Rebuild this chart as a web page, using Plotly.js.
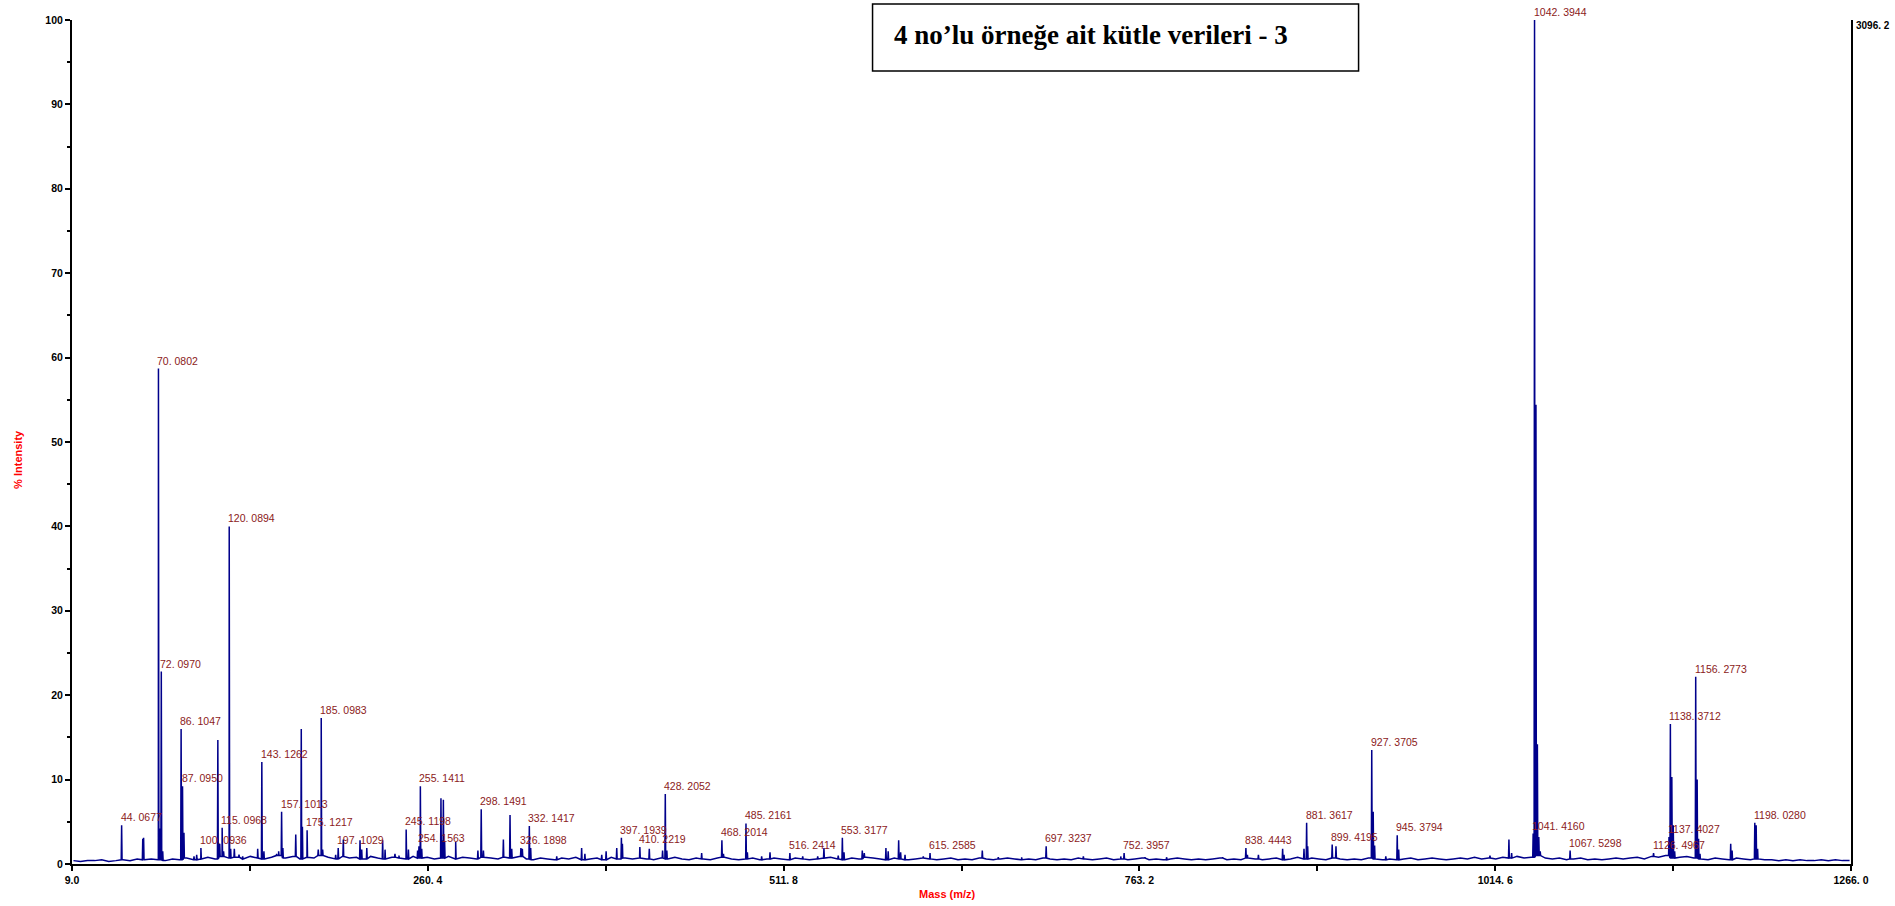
<!DOCTYPE html>
<html>
<head>
<meta charset="utf-8">
<script src="https://cdn.plot.ly/plotly-3.0.1.min.js"></script>
<style>
  html, body { margin: 0; padding: 0; background: #ffffff; }
  #chart { width: 1895px; height: 906px; }
</style>
</head>
<body>
<div id="chart"></div>
<script>
// Baseline noise level (% intensity), one reading every 5 m/z starting at m/z 10
const baselineStart = 10;
const baselineStep = 5;
const baseline = [
  0.4,0.3,0.4,0.4,0.5,0.3,0.4,0.5,0.4,0.6,0.5,0.6,0.5,0.4,0.6,0.5,0.7,0.5,0.6,0.8,
  0.6,0.9,0.7,0.8,0.6,0.9,0.7,0.6,0.8,1.0,0.7,0.9,0.6,0.8,0.7,1.0,0.8,0.6,0.9,0.7,
  0.8,0.6,0.9,0.7,0.6,0.8,0.7,0.6,0.9,0.7,0.8,0.6,0.7,0.9,0.6,0.8,0.7,0.6,0.8,0.7,
  0.6,0.8,0.7,0.9,0.6,0.5,0.7,0.6,0.5,0.7,0.6,0.8,0.5,0.6,0.7,0.5,0.8,0.6,0.7,0.6,
  0.7,0.6,0.5,0.7,0.6,0.8,0.6,0.5,0.7,0.6,0.5,0.7,0.8,0.6,0.5,0.6,0.7,0.5,0.6,0.7,
  0.6,0.5,0.7,0.6,0.5,0.6,0.7,0.8,0.6,0.5,0.7,0.6,0.8,0.7,0.6,0.5,0.7,0.6,0.5,0.6,
  0.7,0.6,0.5,0.6,0.7,0.5,0.6,0.5,0.7,0.6,0.5,0.6,0.7,0.6,0.5,0.6,0.5,0.7,0.6,0.5,
  0.6,0.5,0.7,0.6,0.5,0.6,0.7,0.5,0.6,0.5,0.6,0.7,0.5,0.6,0.5,0.6,0.7,0.6,0.5,0.6,
  0.5,0.6,0.7,0.5,0.6,0.5,0.7,0.6,0.5,0.6,0.7,0.5,0.6,0.8,0.6,0.7,0.6,0.5,0.7,0.6,
  0.5,0.6,0.5,0.7,0.6,0.5,0.6,0.5,0.6,0.7,0.5,0.6,0.7,0.6,0.5,0.6,0.7,0.6,0.8,0.6,
  0.7,0.6,0.8,0.7,0.9,0.7,0.8,1.0,0.7,0.6,0.7,0.5,0.6,0.7,0.5,0.6,0.5,0.6,0.7,0.6,
  0.7,0.8,0.6,0.9,0.8,1.0,0.7,0.8,0.9,0.7,0.6,0.5,0.7,0.6,0.5,0.7,0.6,0.5,0.6,0.5,
  0.5,0.4,0.5,0.4,0.5,0.4,0.4,0.5,0.4,0.5,0.4,0.4
];

// Peak centroids (m/z) and their relative intensities (%)
const peakMz = [
  44.0677, 59.0, 59.6, 70.0802, 71.08, 72.0970, 73.1, 86.1047, 87.0950, 88.1,
  95.2, 97.1, 100.0936, 112.05, 113.4, 115.0968, 116.1, 120.0894, 121.1, 123.7,
  127.0, 129.6, 140.2, 143.1262, 144.6, 153.6, 155.0, 157.1013, 158.0, 167.1,
  171.0, 171.8, 175.1217, 183.0, 185.0983, 186.1, 195.3, 197.1029, 200.7, 212.5,
  213.7, 217.3, 228.5, 230.2, 237.2, 240.0, 245.1198, 246.7, 253.2, 254.1563,
  255.1411, 256.1, 269.7, 270.5, 271.4, 272.3, 280.1, 295.8, 298.1491, 299.7,
  313.8, 318.5, 319.7, 326.1898, 327.2, 332.1417, 333.1, 351.5, 369.1, 371.4,
  383.3, 386.4, 393.9, 397.1939, 397.9, 410.2219, 416.9, 426.3, 428.2052, 429.3,
  453.9, 468.2014, 469.3, 485.2161, 486.2, 496.3, 502.2, 516.2414, 525.3, 535.9,
  540.3, 550.4, 553.3177, 554.5, 567.4, 568.8, 584.1, 585.7, 593.1, 594.5,
  597.6, 610.5, 615.2585, 652.2, 663.5, 680.0, 697.3237, 723.6, 750.0, 752.3957,
  767.1, 782.4, 822.0, 838.4443, 839.5, 847.3, 864.4, 865.4, 879.5, 881.3617,
  882.1, 899.4195, 902.1, 927.3705, 928.4, 929.4, 937.3, 945.3794, 946.4, 1010.9,
  1024.3, 1026.2, 1041.4160, 1042.3944, 1043.4, 1044.4, 1045.4, 1046.4, 1067.5298, 1126.4967,
  1137.4027, 1138.3712, 1139.4, 1140.4, 1141.4, 1156.2773, 1157.3, 1158.3, 1159.3, 1181.0,
  1182.0, 1198.0280, 1199.0, 1200.0
];
const peakIntensity = [
  4.6, 3.0, 3.1, 58.7, 4.2, 22.8, 1.5, 16.0, 9.2, 3.7,
  0.9, 1.1, 1.9, 14.7, 2.4, 4.3, 1.5, 40.0, 1.8, 1.8,
  1.1, 0.9, 1.8, 12.1, 1.5, 1.2, 1.5, 6.2, 1.9, 3.5,
  16.0, 4.4, 4.0, 1.7, 17.3, 1.7, 1.1, 1.9, 2.9, 2.8,
  1.7, 1.9, 2.8, 1.7, 1.2, 1.0, 4.1, 1.7, 1.6, 2.1,
  9.2, 1.8, 7.8, 2.8, 7.6, 2.6, 2.6, 1.6, 6.5, 1.6,
  2.9, 5.8, 1.8, 1.9, 1.8, 4.5, 1.9, 0.9, 1.9, 1.2,
  1.1, 1.5, 1.9, 3.1, 2.4, 2.0, 1.8, 1.6, 8.3, 1.6,
  1.3, 2.8, 1.2, 4.8, 1.4, 0.9, 1.4, 1.3, 0.9, 0.9,
  1.9, 1.0, 3.1, 1.4, 1.6, 1.3, 1.9, 1.5, 2.8, 1.4,
  1.1, 0.9, 1.3, 1.6, 0.8, 0.8, 2.1, 0.9, 0.9, 1.3,
  0.8, 0.8, 0.8, 1.9, 1.1, 1.1, 1.8, 1.1, 1.8, 4.9,
  2.1, 2.3, 2.1, 13.5, 6.2, 2.2, 0.9, 3.4, 1.7, 1.0,
  2.9, 1.3, 3.6, 100.0, 54.4, 14.2, 3.2, 1.5, 1.6, 1.3,
  3.2, 16.6, 10.3, 4.6, 1.5, 22.2, 10.0, 3.0, 1.2, 2.4,
  1.6, 4.9, 4.6, 1.8
];

// Peaks annotated with their m/z value
const labelledMz = [
  44.0677, 70.0802, 72.0970, 86.1047, 87.0950, 100.0936, 115.0968, 120.0894,
  143.1262, 157.1013, 175.1217, 185.0983, 197.1029, 245.1198, 254.1563, 255.1411,
  298.1491, 326.1898, 332.1417, 397.1939, 410.2219, 428.2052, 468.2014, 485.2161,
  516.2414, 553.3177, 615.2585, 697.3237, 752.3957, 838.4443, 881.3617, 899.4195,
  927.3705, 945.3794, 1041.4160, 1042.3944, 1067.5298, 1126.4967, 1137.4027,
  1138.3712, 1156.2773, 1198.0280
];

const xTickVals = [9.0, 260.4, 511.8, 763.2, 1014.6, 1266.0];
const xTickText = ['9.0', '260. 4', '511. 8', '763. 2', '1014. 6', '1266. 0'];
const yTickVals = [0, 10, 20, 30, 40, 50, 60, 70, 80, 90, 100];
const basePeakCounts = '3096. 2';
const chartTitle = '4 no’lu örneğe ait kütle verileri - 3';
const xTitle = 'Mass (m/z)';
const yTitle = '% Intensity';

const SANS = '"Liberation Sans", Arial, sans-serif';
const SERIF = '"Liberation Serif", "Times New Roman", serif';
const LABEL_RED = '#8b1a1a';
const TRACE_BLUE = '#00008b';

// Profile trace: baseline readings plus a narrow stick for every peak
function footAt(m) {
  let i = Math.round((m - baselineStart) / baselineStep);
  i = Math.max(0, Math.min(baseline.length - 1, i));
  return baseline[i];
}
const pts = [];
baseline.forEach((v, i) => pts.push([baselineStart + i * baselineStep, v]));
peakMz.forEach((m, i) => {
  const f = footAt(m);
  pts.push([m - 0.3, f], [m, peakIntensity[i]], [m + 0.3, f]);
});
pts.sort((a, b) => a[0] - b[0]);

const trace = {
  type: 'scatter',
  mode: 'lines',
  x: pts.map(p => p[0]),
  y: pts.map(p => p[1]),
  line: { color: TRACE_BLUE, width: 1.5, simplify: false },
  hoverinfo: 'skip',
  showlegend: false
};

function fmtMz(m) {
  return m.toFixed(4).replace('.', '. ');
}

const annotations = labelledMz.map(m => {
  const i = peakMz.indexOf(m);
  return {
    x: m, y: peakIntensity[i], xref: 'x', yref: 'y',
    text: fmtMz(m), showarrow: false,
    xanchor: 'left', yanchor: 'bottom', xshift: -3, yshift: 0,
    font: { family: SANS, size: 10.5, color: LABEL_RED }
  };
});

annotations.push(
  {
    x: 1, y: 1, xref: 'paper', yref: 'paper', text: '<b>' + basePeakCounts + '</b>',
    showarrow: false, xanchor: 'left', yanchor: 'top', xshift: 3, yshift: 2,
    font: { family: SANS, size: 10, color: '#000000' }
  },
  {
    x: 0.4921, y: -0.0355, xref: 'paper', yref: 'paper', text: '<b>' + xTitle + '</b>',
    showarrow: false, xanchor: 'center', yanchor: 'middle',
    font: { family: SANS, size: 11, color: '#ff0000' }
  },
  {
    x: -0.0304, y: 0.4799, xref: 'paper', yref: 'paper', text: '<b>' + yTitle + '</b>',
    showarrow: false, xanchor: 'center', yanchor: 'middle', textangle: -90,
    font: { family: SANS, size: 11, color: '#ff0000' }
  },
  {
    x: 0.4609, y: 0.9828, xref: 'paper', yref: 'paper', text: '<b>' + chartTitle + '</b>',
    showarrow: false, xanchor: 'left', yanchor: 'middle',
    font: { family: SERIF, size: 27, color: '#000000' }
  }
);

const layout = {
  width: 1895,
  height: 906,
  margin: { l: 72, r: 44, t: 20, b: 42, pad: 0 },
  paper_bgcolor: '#ffffff',
  plot_bgcolor: '#ffffff',
  showlegend: false,
  hovermode: false,
  xaxis: {
    range: [9.0, 1266.0],
    showgrid: false, zeroline: false,
    showline: true, linecolor: '#000000', linewidth: 2,
    ticks: 'outside', ticklen: 5, tickwidth: 2, tickcolor: '#000000',
    tickmode: 'array', tickvals: xTickVals, ticktext: xTickText,
    tickfont: { family: SANS, size: 10.5, color: '#000000', weight: 'bold' },
    minor: { tick0: 9.0, dtick: 125.7, ticks: 'outside', ticklen: 5, tickwidth: 2, tickcolor: '#000000', showgrid: false }
  },
  yaxis: {
    range: [0, 100],
    showgrid: false, zeroline: false,
    showline: true, mirror: true, linecolor: '#000000', linewidth: 2,
    ticks: 'outside', ticklen: 5, tickwidth: 2, tickcolor: '#000000',
    tickmode: 'array', tickvals: yTickVals,
    tickfont: { family: SANS, size: 10.5, color: '#000000', weight: 'bold' },
    minor: { tick0: 0, dtick: 5, ticks: 'outside', ticklen: 3, tickwidth: 2, tickcolor: '#000000', showgrid: false }
  },
  shapes: [{
    type: 'rect', xref: 'paper', yref: 'paper',
    x0: 0.4500, x1: 0.7232, y0: 0.9396, y1: 1.0190,
    line: { color: '#000000', width: 1.5 }, fillcolor: 'rgba(255,255,255,0)', layer: 'above'
  }],
  annotations: annotations
};

Plotly.newPlot('chart', [trace], layout, { displayModeBar: false, staticPlot: true });
</script>
</body>
</html>
